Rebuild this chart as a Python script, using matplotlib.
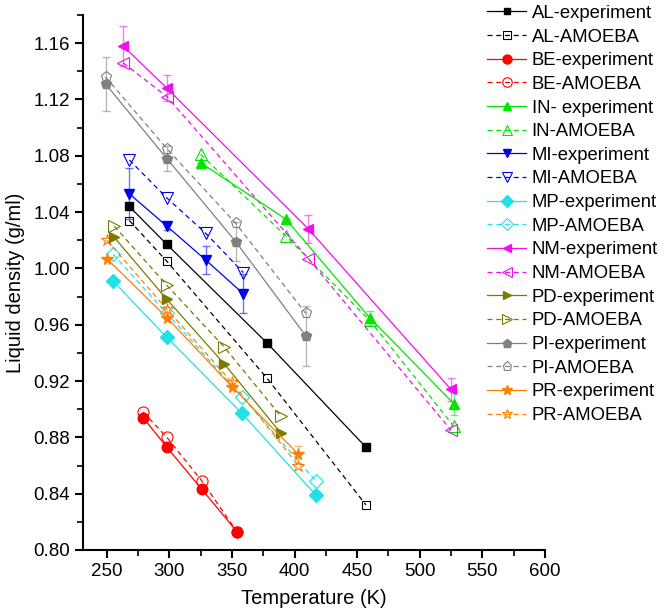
import numpy as np
import matplotlib.pyplot as plt
from matplotlib.ticker import MultipleLocator

plt.rcParams['font.family'] = ['Liberation Sans', 'DejaVu Sans']

# temperatures (K) and liquid densities (g/ml)
al_T = [268, 298, 378, 457]
al_exp = [1.044, 1.017, 0.947, 0.873]
al_amoeba = [1.034, 1.005, 0.922, 0.832]
al_err = [0, 0, 0, 0]

be_T = [279, 298, 326, 354]
be_exp = [0.894, 0.873, 0.843, 0.813]
be_amoeba = [0.898, 0.880, 0.849, 0.813]
be_err = [0, 0, 0, 0.003]

in_T = [325, 393, 460, 527]
in_exp = [1.075, 1.035, 0.965, 0.904]
in_amoeba = [1.081, 1.023, 0.963, 0.888]
in_err = [0, 0, 0.005, 0.008]

mi_T = [268, 298, 329, 359]
mi_exp = [1.053, 1.030, 1.006, 0.982]
mi_amoeba = [1.077, 1.050, 1.025, 0.997]
mi_err = [0.018, 0.003, 0.010, 0.014]

mp_T = [255, 298, 358, 417]
mp_exp = [0.991, 0.951, 0.897, 0.839]
mp_amoeba = [1.010, 0.968, 0.909, 0.849]
mp_err = [0, 0, 0, 0]

nm_T = [263, 298, 411, 525]
nm_exp = [1.158, 1.128, 1.028, 0.914]
nm_amoeba = [1.146, 1.122, 1.007, 0.885]
nm_err = [0.014, 0.009, 0.010, 0.008]

pd_T = [256, 298, 344, 389]
pd_exp = [1.022, 0.978, 0.932, 0.883]
pd_amoeba = [1.030, 0.988, 0.944, 0.895]
pd_err = [0, 0, 0, 0]

pi_T = [249, 298, 353, 409]
pi_exp = [1.131, 1.078, 1.019, 0.952]
pi_amoeba = [1.136, 1.085, 1.032, 0.968]
pi_err = [0.019, 0.009, 0.014, 0.021]

pr_T = [250, 298, 350, 403]
pr_exp = [1.007, 0.965, 0.916, 0.868]
pr_amoeba = [1.020, 0.971, 0.919, 0.860]
pr_err = [0, 0, 0, 0.006]

names = ['AL', 'BE', 'IN', 'MI', 'MP', 'NM', 'PD', 'PI', 'PR']
temps = [al_T, be_T, in_T, mi_T, mp_T, nm_T, pd_T, pi_T, pr_T]
exps = [al_exp, be_exp, in_exp, mi_exp, mp_exp, nm_exp, pd_exp, pi_exp, pr_exp]
amoebas = [al_amoeba, be_amoeba, in_amoeba, mi_amoeba, mp_amoeba, nm_amoeba,
           pd_amoeba, pi_amoeba, pr_amoeba]
errs = [al_err, be_err, in_err, mi_err, mp_err, nm_err, pd_err, pi_err, pr_err]

colors = ['#000000', '#ff0000', '#00e600', '#0000ee', '#22e0e8', '#ee10ee',
          '#7a7a00', '#808080', '#ff8000']
markers = ['s', 'o', '^', 'v', 'D', '<', '>', 'p', '*']
msizes = [6, 8, 8, 8, 7, 8, 8, 8, 9]

fig = plt.figure(figsize=(6.66, 6.15), dpi=100)
ax = fig.add_axes([0.1246, 0.1057, 0.6937, 0.87])

for i in range(len(names)):
    c = colors[i]
    ax.errorbar(temps[i], exps[i], yerr=errs[i], fmt='none', ecolor=c,
                alpha=0.55, elinewidth=1, capsize=3, zorder=1)
    ax.plot(temps[i], exps[i], '-', color=c, lw=0.9, marker=markers[i],
            ms=msizes[i] * 0.95, mfc=c, mec=c, zorder=3,
            label=names[i] + ('- experiment' if names[i] == 'IN' else '-experiment'))
    ax.plot(temps[i], amoebas[i], '--', color=c, lw=0.9, dashes=(4, 3),
            marker=markers[i], ms=msizes[i], mfc='none', mec=c, mew=0.8,
            zorder=2, label=names[i] + '-AMOEBA')

ax.set_xlim(231, 600)
ax.set_ylim(0.80, 1.18)
ax.xaxis.set_minor_locator(MultipleLocator(25))
ax.yaxis.set_minor_locator(MultipleLocator(0.02))
ax.set_xticks(np.arange(250, 601, 50))
ax.set_yticks(np.arange(0.80, 1.161, 0.04))
ax.yaxis.set_major_formatter(plt.FormatStrFormatter('%.2f'))

ax.spines['top'].set_visible(False)
ax.spines['right'].set_visible(False)
ax.spines['left'].set_linewidth(1.5)
ax.spines['bottom'].set_linewidth(1.5)
ax.tick_params(which='major', direction='out', length=6, width=1.5, labelsize=13.5)
ax.tick_params(which='minor', direction='out', length=4, width=1.2)

ax.set_xlabel('Temperature (K)', fontsize=14.5, labelpad=6)
ax.set_ylabel('Liquid density (g/ml)', fontsize=14.5, labelpad=6)

fig.legend(loc='upper left', bbox_to_anchor=(0.729, 0.995), frameon=False,
           fontsize=13.3, handlelength=2.1, handletextpad=0.3, labelspacing=0.36,
           markerscale=0.85, borderaxespad=0, borderpad=0.1)

plt.savefig('out.png', dpi=100)
